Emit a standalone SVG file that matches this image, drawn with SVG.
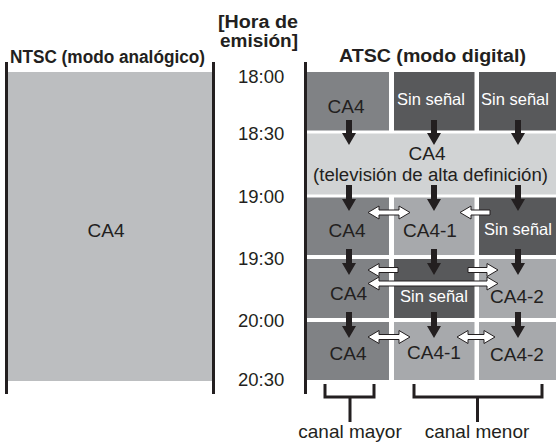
<svg xmlns="http://www.w3.org/2000/svg" width="556" height="443" viewBox="0 0 556 443">
<defs>
<style>
text{font-family:"Liberation Sans",Arial,sans-serif;fill:#231f20;}
.h{font-weight:bold;font-size:18px;}
.t{font-size:18.5px;}
.c{font-size:19px;text-anchor:middle;}
.s{font-size:16.5px;text-anchor:middle;fill:#ffffff;}
.vl{stroke:#231f20;stroke-width:3;fill:none;}
.g1{fill:#808285;}
.g2{fill:#58595b;}
.g3{fill:#d1d3d4;}
.g4{fill:#a7a9ac;}
.g5{fill:#bcbec0;}
.da{fill:#231f20;}
.wa{fill:#ffffff;stroke:#231f20;stroke-width:1;stroke-linejoin:miter;}
.br{stroke:#231f20;stroke-width:3;fill:none;}
</style>
</defs>
<rect width="556" height="443" fill="#ffffff"/>

<g id="headers">
<text class="h" x="10" y="63" textLength="195" lengthAdjust="spacingAndGlyphs">NTSC (modo analógico)</text>
<text class="h" x="218" y="28" textLength="80" lengthAdjust="spacingAndGlyphs">[Hora de</text>
<text class="h" x="220" y="47" textLength="78" lengthAdjust="spacingAndGlyphs">emisión]</text>
<text class="h" x="339" y="62" textLength="187" lengthAdjust="spacingAndGlyphs">ATSC (modo digital)</text>
</g>

<g id="ntsc">
<rect class="g5" x="7" y="72" width="206" height="309"/>
<line class="vl" x1="6.5" y1="62" x2="6.5" y2="394"/>
<line class="vl" x1="213.5" y1="62" x2="213.5" y2="394"/>
<text class="c" x="106" y="237">CA4</text>
</g>

<g id="times">
<text class="t" x="238" y="83">18:00</text>
<text class="t" x="238" y="140">18:30</text>
<text class="t" x="238" y="203">19:00</text>
<text class="t" x="238" y="265">19:30</text>
<text class="t" x="238" y="327">20:00</text>
<text class="t" x="238" y="386">20:30</text>
</g>

<g id="atsc-axis">
<line class="vl" x1="305.5" y1="62" x2="305.5" y2="394"/>
</g>

<g id="row1">
<rect class="g1" x="307" y="72" width="82" height="58.5"/>
<rect class="g2" x="394" y="72" width="80.5" height="58.5"/>
<rect class="g2" x="479" y="72" width="77" height="58.5"/>
<text class="c" x="346" y="113">CA4</text>
<text class="s" x="431" y="105">Sin señal</text>
<text class="s" x="515" y="105">Sin señal</text>
</g>

<g id="row2">
<rect class="g3" x="307" y="133.5" width="249" height="61"/>
<text class="c" x="427" y="159.5">CA4</text>
<text class="c" x="430.5" y="180.5" style="font-size:18px" textLength="235" lengthAdjust="spacingAndGlyphs">(televisión de alta definición)</text>
</g>

<g id="row3">
<rect class="g1" x="307" y="197.5" width="82" height="57.5"/>
<rect class="g4" x="394" y="197.5" width="80.5" height="57.5"/>
<rect class="g2" x="479" y="197.5" width="77" height="57.5"/>
<text class="c" x="347" y="236.5">CA4</text>
<text class="c" x="430" y="236.5">CA4-1</text>
<text class="s" x="518" y="235">Sin señal</text>
</g>

<g id="row4">
<rect class="g1" x="307" y="259" width="82" height="59"/>
<rect class="g2" x="394" y="259" width="80.5" height="59"/>
<rect class="g4" x="479" y="259" width="77" height="59"/>
<text class="c" x="348.5" y="300">CA4</text>
<text class="s" x="434" y="301.5">Sin señal</text>
<text class="c" x="517" y="303">CA4-2</text>
</g>

<g id="row5">
<rect class="g1" x="307" y="322" width="82" height="58"/>
<rect class="g4" x="394" y="322" width="80.5" height="58"/>
<rect class="g4" x="479" y="322" width="77" height="58"/>
<text class="c" x="348" y="360">CA4</text>
<text class="c" x="434" y="358.5">CA4-1</text>
<text class="c" x="517" y="361">CA4-2</text>
</g>

<g id="connectors">
<g id="down-arrows">
<path class="da" d="M346,120 h6 v13 h4 l-7,12 l-7,-12 h4 z"/>
<path class="da" d="M431,120 h6 v13 h4 l-7,12 l-7,-12 h4 z"/>
<path class="da" d="M515,120 h6 v13 h4 l-7,12 l-7,-12 h4 z"/>
<path class="da" d="M346,185 h6 v14 h4 l-7,12 l-7,-12 h4 z"/>
<path class="da" d="M431,185 h6 v14 h4 l-7,12 l-7,-12 h4 z"/>
<path class="da" d="M515,185 h6 v14 h4 l-7,12 l-7,-12 h4 z"/>
<path class="da" d="M346,249 h6 v14 h4 l-7,12 l-7,-12 h4 z"/>
<path class="da" d="M431,249 h6 v14 h4 l-7,12 l-7,-12 h4 z"/>
<path class="da" d="M515,249 h6 v14 h4 l-7,12 l-7,-12 h4 z"/>
<path class="da" d="M346,312 h6 v14 h4 l-7,12 l-7,-12 h4 z"/>
<path class="da" d="M431,312 h6 v14 h4 l-7,12 l-7,-12 h4 z"/>
<path class="da" d="M515,312 h6 v14 h4 l-7,12 l-7,-12 h4 z"/>
</g>
<g id="white-arrows">
<path class="wa" d="M368,212.5 l11,-6.5 v4 h20 v-4 l11,6.5 l-11,6.5 v-4 h-20 v4 z"/>
<path class="wa" d="M460,212.5 l11,-6.5 v4 h19 v5 h-19 v4 z"/>
<path class="wa" d="M368,270 l11,-6.5 v4 h19 v5 h-19 v4 z"/>
<path class="wa" d="M498,270 l-11,-6.5 v4 h-19 v5 h19 v4 z"/>
<path class="wa" d="M368,283.5 l11,-6.5 v4 h108 v-4 l11,6.5 l-11,6.5 v-4 h-108 v4 z"/>
<path class="wa" d="M368,337 l11,-6.5 v4 h20 v-4 l11,6.5 l-11,6.5 v-4 h-20 v4 z"/>
<path class="wa" d="M457,337 l11,-6.5 v4 h16 v-4 l11,6.5 l-11,6.5 v-4 h-16 v4 z"/>
</g>
<g id="brackets">
<path class="br" d="M325,384 V397 H374 V384 M350,397 V422"/>
<path class="br" d="M414,384 V397 H542 V384 M477.5,397 V422"/>
</g>
</g>

<g id="labels">
<text class="c" x="350" y="438">canal mayor</text>
<text class="c" x="477" y="438">canal menor</text>
</g>
</svg>
